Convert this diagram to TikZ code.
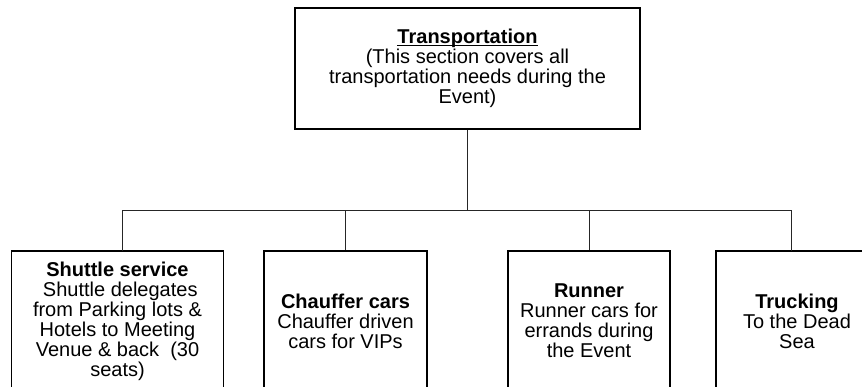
\documentclass[tikz,border=0pt]{standalone}
\usepackage{fontspec}
\setmainfont{Liberation Sans}
% underline drawn just under the baseline, crossing descenders
\newcommand\ulbox[1]{\setbox0\hbox{#1}\rlap{\rule[-2.2pt]{\wd0}{1.1pt}}\box0}
\begin{document}
\begin{tikzpicture}[x=1pt,y=-1pt,
  box/.style={draw=black, line width=1.2pt, fill=white, align=center,
    inner sep=0pt, font=\fontsize{20}{20}\selectfont},
  conn/.style={draw=black!85, line width=0.9pt}]
  \useasboundingbox (0,0) rectangle (862,387);
  \clip (0,0) rectangle (862,387);

  % top-level section
  \node[box, minimum width=345, minimum height=121] (top) at (467.5,68.5)
    {\ulbox{\textbf{Transportation}}\\(This section covers all\\transportation needs during the\\Event)};

  % sub-sections
  \node[box, minimum width=211.5, minimum height=140] (s1) at (117.5,321)
    {\textbf{Shuttle service}\\\ Shuttle delegates\\from Parking lots \&\\Hotels to Meeting\\Venue \& back\ \ (30\\seats)};
  \node[box, minimum width=163, minimum height=140] (s2) at (345.5,321)
    {\textbf{Chauffer cars}\\Chauffer driven\\cars for VIPs};
  \node[box, minimum width=162, minimum height=140] (s3) at (589,321)
    {\textbf{Runner}\\Runner cars for\\errands during\\the Event};
  \node[box, minimum width=162, minimum height=140] (s4) at (797,321)
    {\textbf{Trucking}\\To the Dead\\Sea};

  % connectors
  \coordinate (bus) at (467.5,210.7);
  \coordinate (d1) at (122.7,251);
  \coordinate (d4) at (791.7,251);
  \draw[conn] (top.south) -- (bus);
  \draw[conn] (bus) -| (d1);
  \draw[conn] (bus) -| (s2.north);
  \draw[conn] (bus) -| (s3.north);
  \draw[conn] (bus) -| (d4);
\end{tikzpicture}
\end{document}
